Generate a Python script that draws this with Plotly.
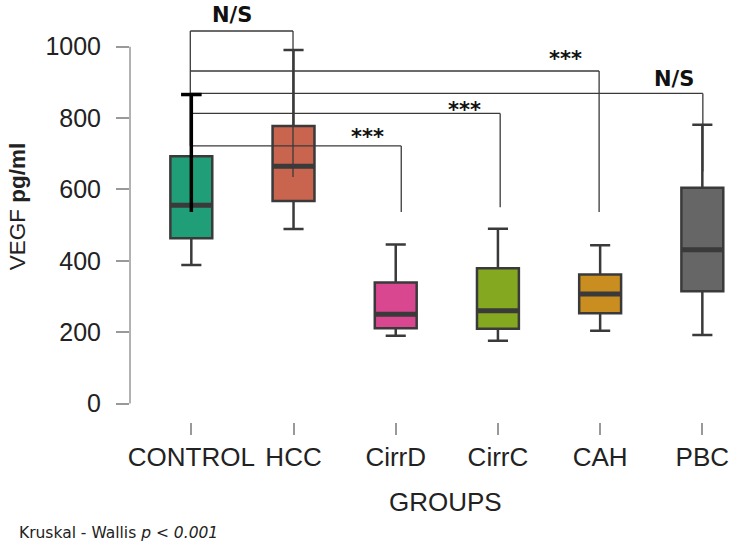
import plotly.graph_objects as go

# ---- data ----
groups = ["CONTROL", "HCC", "CirrD", "CirrC", "CAH", "PBC"]
q1 = [463, 568, 211, 210, 253, 315]
medians = [556, 665, 250, 260, 307, 431]
q3 = [693, 778, 339, 379, 362, 605]
lower = [388, 489, 190, 176, 204, 192]
upper = [866, 991, 446, 490, 444, 781]
colors = ["#1f9e78", "#c9644f", "#d8478f", "#84a81f", "#c98e1f", "#666666"]

y_ticks = [0, 200, 400, 600, 800, 1000]

# significance brackets (CONTROL vs group)
bracket_left_x = -0.01
bracket_right_x = [0.995, 3.99, 5.005, 3.022, 2.054]
bracket_top = [1044, 932, 869, 813, 722]
bracket_drop = [635, 537, 650, 550, 537]
control_line_bottom = 537

sig_labels = ["N/S", "***", "N/S", "***", "***"]
sig_x = [0.40, 3.66, 4.72, 2.67, 1.72]
sig_y = [1089, 965, 909, 822, 747]

FONT = "Liberation Sans, Arial, sans-serif"
LINE = "#3a3a3a"
BOXW = 0.41

fig = go.Figure()
for i, g in enumerate(groups):
    fig.add_trace(go.Box(
        x=[i], q1=[q1[i]], median=[medians[i]], q3=[q3[i]],
        lowerfence=[lower[i]], upperfence=[upper[i]],
        width=BOXW, whiskerwidth=0.48, boxpoints=False,
        fillcolor=colors[i], line=dict(color=LINE, width=2.5),
        name=g, showlegend=False, hoverinfo="skip",
    ))

shapes = []
# thick medians
for i, m in enumerate(medians):
    shapes.append(dict(type="line", xref="x", yref="y", x0=i - BOXW / 2, x1=i + BOXW / 2,
                       y0=m, y1=m, line=dict(color=LINE, width=5)))
# y axis line (0..1000 only)
shapes.append(dict(type="line", xref="paper", yref="y", x0=0, x1=0,
                   y0=y_ticks[0], y1=y_ticks[-1], line=dict(color="#999999", width=1.5)))
# brackets
for rx, top, drop in zip(bracket_right_x, bracket_top, bracket_drop):
    shapes.append(dict(type="line", xref="x", yref="y", x0=bracket_left_x, x1=rx,
                       y0=top, y1=top, line=dict(color=LINE, width=1.3)))
    shapes.append(dict(type="line", xref="x", yref="y", x0=rx, x1=rx,
                       y0=top, y1=drop, line=dict(color=LINE, width=1.3)))
shapes.append(dict(type="line", xref="x", yref="y", x0=bracket_left_x, x1=bracket_left_x,
                   y0=max(bracket_top), y1=min(bracket_top), line=dict(color=LINE, width=1.3)))
# thick control whisker line
shapes.append(dict(type="line", xref="x", yref="y", x0=0, x1=0,
                   y0=upper[0], y1=control_line_bottom, line=dict(color="black", width=3.5)))
shapes.append(dict(type="line", xref="x", yref="y", x0=-0.1, x1=0.1,
                   y0=upper[0], y1=upper[0], line=dict(color="black", width=3.5)))

annotations = []
for lab, sx, sy in zip(sig_labels, sig_x, sig_y):
    annotations.append(dict(x=sx, y=sy, xref="x", yref="y", text=f"<b>{lab}</b>",
                            showarrow=False, xanchor="center", yanchor="middle",
                            font=dict(family="DejaVu Sans, sans-serif", size=21, color="#111")))
annotations.append(dict(x=0.524, y=-0.19, xref="paper", yref="paper", text="GROUPS",
                        showarrow=False, xanchor="center", yanchor="middle",
                        font=dict(family=FONT, size=26, color="#222")))
annotations.append(dict(x=-0.1874, y=0.5115, xref="paper", yref="paper",
                        text="VEGF <b>pg/ml</b>", textangle=-90,
                        showarrow=False, xanchor="center", yanchor="middle",
                        font=dict(family=FONT, size=22.5, color="#222")))
annotations.append(dict(x=-0.1874, y=-0.264, xref="paper", yref="paper",
                        text="Kruskal - Wallis <i>p &lt; 0.001</i>",
                        showarrow=False, xanchor="left", yanchor="middle",
                        font=dict(family="DejaVu Sans, sans-serif", size=15.5, color="#222")))

fig.update_layout(
    width=735, height=549,
    margin=dict(l=130, r=2, t=0, b=127.3),
    plot_bgcolor="white", paper_bgcolor="white",
    shapes=shapes, annotations=annotations,
    xaxis=dict(range=[-0.6, 5.3], tickvals=list(range(len(groups))), ticktext=groups,
               ticks="outside", ticklen=12, tickwidth=1.5, tickcolor="#999999",
               showline=False, showgrid=False, zeroline=False, ticklabelstandoff=0,
               tickfont=dict(family=FONT, size=26, color="#222")),
    yaxis=dict(range=[-51.6, 1130.9], tickvals=y_ticks,
               ticks="outside", ticklen=13, tickwidth=1.5, tickcolor="#999999",
               showline=False, showgrid=False, zeroline=False, ticklabelstandoff=10,
               tickfont=dict(family=FONT, size=25, color="#222")),
)

fig.write_html("out.html")
